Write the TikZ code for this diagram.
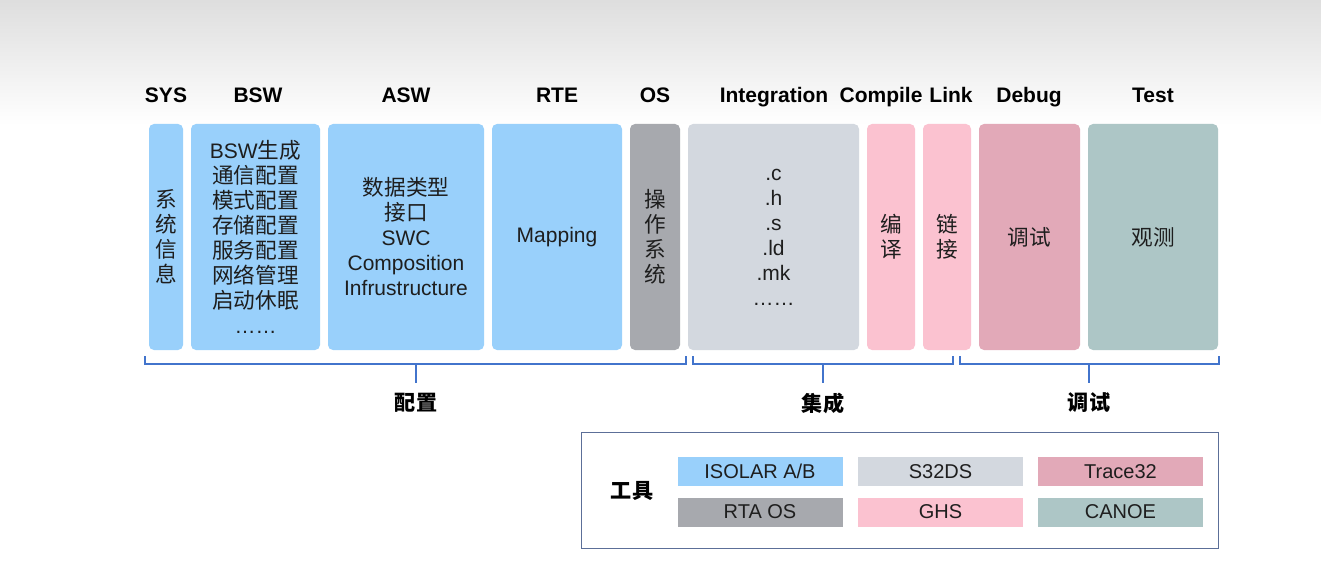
\documentclass[tikz,border=0pt]{standalone}
\usepackage{fontspec}
\setmainfont{Liberation Sans}
\newfontfamily\cjk[Scale=1.03]{Noto Sans CJK SC}
\definecolor{cblue}{HTML}{99D0FB}
\definecolor{cgray}{HTML}{A7A9AE}
\definecolor{clight}{HTML}{D3D8DF}
\definecolor{cpink}{HTML}{FBC2D0}
\definecolor{crose}{HTML}{E2A9B8}
\definecolor{cteal}{HTML}{ADC6C6}
\definecolor{cbrk}{HTML}{4274CC}
\definecolor{cframe}{HTML}{5C6F98}
\definecolor{ctext}{HTML}{1E1E1E}
\begin{document}
\begin{tikzpicture}[x=1pt,y=-1pt,
  box/.style={rounded corners=5pt, inner sep=0pt, align=center, text=ctext,
    font=\fontsize{21}{25}\selectfont},
  head/.style={font=\bfseries\fontsize{21}{24}\selectfont, text=black, inner sep=0pt, anchor=base},
  blabel/.style={font=\cjk\bfseries\fontsize{20.5}{24}\selectfont, text=black, inner sep=0pt},
  brk/.style={draw=cbrk, line width=2pt},
  tool/.style={inner sep=0pt, minimum height=29pt, minimum width=165pt, text=ctext,
    font=\fontsize{20}{23}\selectfont}
]
\useasboundingbox (0,0) rectangle (1321,585);
\fill[white] (0,0) rectangle (1321,585);
\shade[top color=black!13, bottom color=white] (0,0) rectangle (1321,125);

% main boxes
\node[box, fill=cblue, minimum width=34pt, minimum height=226pt] (sys) at (166,237) {\cjk 系\\\cjk 统\\\cjk 信\\\cjk 息};
\node[box, fill=cblue, minimum width=129pt, minimum height=226pt] (bsw) at (255.5,237)
  {BSW{\cjk 生成}\\\cjk 通信配置\\\cjk 模式配置\\\cjk 存储配置\\\cjk 服务配置\\\cjk 网络管理\\\cjk 启动休眠\\……};
\node[box, fill=cblue, minimum width=156pt, minimum height=226pt] (asw) at (406,237)
  {\cjk 数据类型\\\cjk 接口\\SWC\\Composition\\Infrustructure};
\node[box, fill=cblue, minimum width=130pt, minimum height=226pt] (rte) at (557,237) {Mapping};
\node[box, fill=cgray, minimum width=50pt, minimum height=226pt] (os) at (655,237) {\cjk 操\\\cjk 作\\\cjk 系\\\cjk 统};
\node[box, fill=clight, minimum width=171pt, minimum height=226pt] (integ) at (773.5,237)
  {.c\\.h\\.s\\.ld\\.mk\\……};
\node[box, fill=cpink, minimum width=48pt, minimum height=226pt] (comp) at (891,237) {\cjk 编\\\cjk 译};
\node[box, fill=cpink, minimum width=48pt, minimum height=226pt] (link) at (947,237) {\cjk 链\\\cjk 接};
\node[box, fill=crose, minimum width=101pt, minimum height=226pt] (dbg) at (1029.5,237) {\cjk 调试};
\node[box, fill=cteal, minimum width=130pt, minimum height=226pt] (test) at (1153,237) {\cjk 观测};

% headers
\node[head] (hsys) at (166,103) {SYS};
\node[head] (hbsw) at (258,103) {BSW};
\node[head] (hasw) at (406,103) {ASW};
\node[head] (hrte) at (557,103) {RTE};
\node[head] (hos) at (655,103) {OS};
\node[head] (hint) at (774,103) {Integration};
\node[head] (hcomp) at (881,103) {Compile};
\node[head] (hlink) at (951,103) {Link};
\node[head] (hdbg) at (1029,103) {Debug};
\node[head] (htest) at (1153,103) {Test};

% brackets
\coordinate (b1a) at (145,356); \coordinate (b1b) at (686,356);
\coordinate (b1c) at (416,364); \coordinate (b1d) at (416,383);
\coordinate (b2a) at (693,356); \coordinate (b2b) at (953,356);
\coordinate (b2c) at (823,364); \coordinate (b2d) at (823,383);
\coordinate (b3a) at (960,356); \coordinate (b3b) at (1219,356);
\coordinate (b3c) at (1089,364); \coordinate (b3d) at (1089,383);
\draw[brk] (b1a) -- ++(0,8) -| (b1b);
\draw[brk] (b1c) -- (b1d);
\draw[brk] (b2a) -- ++(0,8) -| (b2b);
\draw[brk] (b2c) -- (b2d);
\draw[brk] (b3a) -- ++(0,8) -| (b3b);
\draw[brk] (b3c) -- (b3d);
\node[blabel] (lcfg) at (416,403) {配置};
\node[blabel] (lint) at (823,403) {集成};
\node[blabel] (ldbg) at (1089,403) {调试};

% legend
\node[draw=cframe, line width=1pt, minimum width=637pt, minimum height=116pt, inner sep=0pt] (legend) at (899.5,490) {};
\node[blabel] (tools) at (632,491) {工具};
\node[tool, fill=cblue] (t1) at (760,471.5) {ISOLAR A/B};
\node[tool, fill=clight] (t2) at (940.5,471.5) {S32DS};
\node[tool, fill=crose] (t3) at (1120.5,471.5) {Trace32};
\node[tool, fill=cgray] (t4) at (760,512) {RTA OS};
\node[tool, fill=cpink] (t5) at (940.5,512) {GHS};
\node[tool, fill=cteal] (t6) at (1120.5,512) {CANOE};
\end{tikzpicture}
\end{document}
